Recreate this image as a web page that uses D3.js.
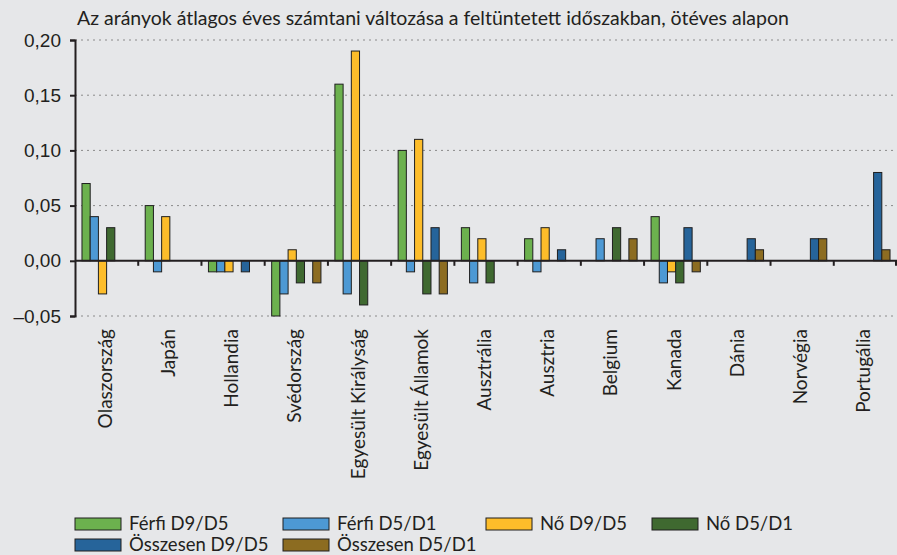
<!DOCTYPE html>
<html>
<head>
<meta charset="utf-8">
<script src="https://cdn.jsdelivr.net/npm/d3@7"></script>
<style>
  html, body { margin: 0; padding: 0; background: #e6e7e9; }
  svg { display: block; font-family: Lato, "Open Sans", sans-serif; }
</style>
</head>
<body>
<div id="chart"></div>
<script>
const countries = ["Olaszország", "Japán", "Hollandia", "Svédország", "Egyesült Királyság",
  "Egyesült Államok", "Ausztrália", "Ausztria", "Belgium", "Kanada", "Dánia", "Norvégia", "Portugália"];

const seriesNames = ["Férfi D9/D5", "Férfi D5/D1", "Nő D9/D5", "Nő D5/D1", "Összesen D9/D5", "Összesen D5/D1"];
const seriesColors = ["#6cb14e", "#4d99d4", "#fdbd2a", "#3f6930", "#26649a", "#8c6c21"];

// one value per country, null = no bar
const ferfiD9D5 = [0.07, 0.05, -0.01, -0.05, 0.16, 0.10, 0.03, 0.02, null, 0.04, null, null, null];
const ferfiD5D1 = [0.04, -0.01, -0.01, -0.03, -0.03, -0.01, -0.02, -0.01, 0.02, -0.02, null, null, null];
const noD9D5 = [-0.03, 0.04, -0.01, 0.01, 0.19, 0.11, 0.02, 0.03, null, -0.01, null, null, null];
const noD5D1 = [0.03, null, null, -0.02, -0.04, -0.03, -0.02, null, 0.03, -0.02, null, null, null];
const osszD9D5 = [null, null, -0.01, null, null, 0.03, null, 0.01, null, 0.03, 0.02, 0.02, 0.08];
const osszD5D1 = [null, null, null, -0.02, null, -0.03, null, null, 0.02, -0.01, 0.01, 0.02, 0.01];

const yTicks = [-0.05, 0, 0.05, 0.10, 0.15, 0.20];
const title = "Az arányok átlagos éves számtani változása a feltüntetett időszakban, ötéves alapon";

const allSeries = [ferfiD9D5, ferfiD5D1, noD9D5, noD5D1, osszD9D5, osszD5D1];

const width = 897, height = 555;
const margin = { top: 40, right: 0, bottom: 239, left: 75 };
const innerW = width - margin.left - margin.right;
const innerH = height - margin.top - margin.bottom;
const fontSize = "19px";

const svg = d3.select("#chart").append("svg")
  .attr("width", width)
  .attr("height", height);

svg.append("rect").attr("width", width).attr("height", height).attr("fill", "#e6e7e9");

svg.append("text")
  .attr("x", 77)
  .attr("y", 25)
  .style("font-size", "19.5px")
  .attr("fill", "#231f20")
  .text(title);

const g = svg.append("g").attr("transform", `translate(${margin.left},${margin.top})`);

const x = d3.scaleBand().domain(countries).range([0, innerW]).padding(0);
const x1 = d3.scaleBand().domain(d3.range(seriesNames.length))
  .range([0, x.bandwidth()]).paddingInner(0).paddingOuter(0.85);
const y = d3.scaleLinear().domain([-0.05, 0.20]).range([innerH, 0]);

const fmt = v => (v < 0 ? "\u2013" : "") + d3.format(".2f")(Math.abs(v)).replace(".", ",");

// gridlines
g.append("g")
  .selectAll("line")
  .data(yTicks.filter(d => d !== 0))
  .join("line")
  .attr("x1", 0).attr("x2", innerW)
  .attr("y1", d => y(d)).attr("y2", d => y(d))
  .attr("stroke", "#8a8a8a")
  .attr("stroke-width", 1)
  .attr("stroke-dasharray", "2,4");

// bars
const rows = countries.map((c, i) => ({ country: c, values: allSeries.map(s => s[i]) }));
const groups = g.selectAll(".grp")
  .data(rows)
  .join("g")
  .attr("transform", d => `translate(${x(d.country)},0)`);

groups.selectAll("rect")
  .data(d => d.values.map((v, k) => ({ k, v })).filter(e => e.v !== null))
  .join("rect")
  .attr("x", d => x1(d.k))
  .attr("width", x1.bandwidth())
  .attr("y", d => y(Math.max(0, d.v)))
  .attr("height", d => Math.abs(y(d.v) - y(0)))
  .attr("fill", d => seriesColors[d.k])
  .attr("stroke", "#1f1f1f")
  .attr("stroke-width", 1);

// y axis
const yAxis = g.append("g")
  .call(d3.axisLeft(y).tickValues(yTicks).tickSize(5).tickPadding(9).tickFormat(fmt));
yAxis.select(".domain").attr("stroke", "#231f20").attr("stroke-width", 2);
yAxis.selectAll(".tick line").attr("stroke", "#231f20").attr("stroke-width", 2);
yAxis.selectAll("text").style("font-size", fontSize).attr("fill", "#231f20");

// zero baseline with category ticks
g.append("line")
  .attr("x1", 0).attr("x2", innerW)
  .attr("y1", y(0)).attr("y2", y(0))
  .attr("stroke", "#231f20").attr("stroke-width", 2);

g.append("g")
  .selectAll("line")
  .data(countries.slice(1).concat(["end"]))
  .join("line")
  .attr("x1", (d, i) => i < countries.length - 1 ? x(d) : innerW - 1)
  .attr("x2", (d, i) => i < countries.length - 1 ? x(d) : innerW - 1)
  .attr("y1", y(0)).attr("y2", y(0) + 5)
  .attr("stroke", "#231f20").attr("stroke-width", 2);

// category labels
g.append("g")
  .selectAll("text")
  .data(countries)
  .join("text")
  .attr("transform", d => `translate(${x(d) + x.bandwidth() / 2 + 5},${innerH + 13}) rotate(-90)`)
  .attr("text-anchor", "end")
  .style("font-size", fontSize)
  .attr("fill", "#231f20")
  .text(d => d);

// legend
const legendCols = [75, 283, 486, 652];
const legend = svg.append("g");
seriesNames.forEach((name, i) => {
  const col = i < 4 ? i : i - 4;
  const row = i < 4 ? 0 : 1;
  const lx = legendCols[col], ly = 518 + row * 21;
  legend.append("rect")
    .attr("x", lx).attr("y", ly)
    .attr("width", 46).attr("height", 12)
    .attr("fill", seriesColors[i])
    .attr("stroke", "#1f1f1f").attr("stroke-width", 1);
  legend.append("text")
    .attr("x", lx + 54).attr("y", ly + 12)
    .style("font-size", "18.5px")
    .attr("fill", "#231f20")
    .text(name);
});
</script>
</body>
</html>
